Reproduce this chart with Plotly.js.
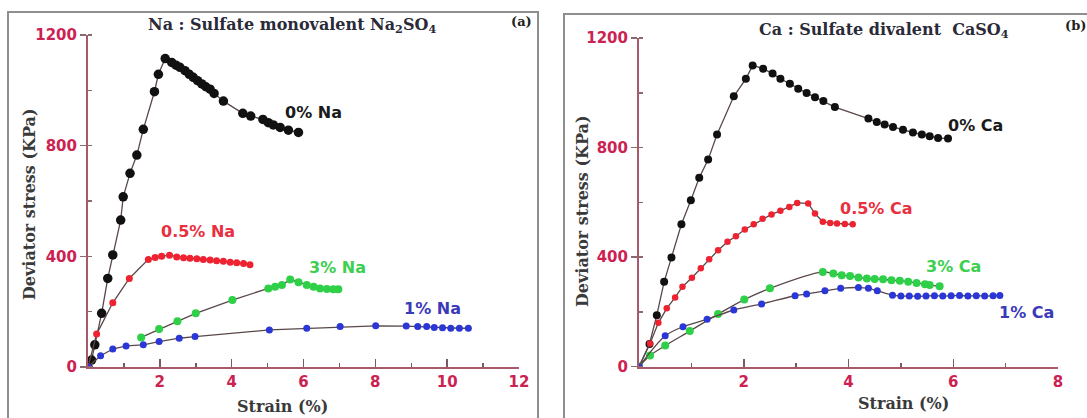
<!DOCTYPE html>
<html>
<head>
<meta charset="utf-8">
<script src="https://cdn.plot.ly/plotly-3.0.1.min.js"></script>
<style>html,body{margin:0;padding:0;background:#fff;}#chart{width:1087px;height:418px;}</style>
</head>
<body>
<div id="chart"></div>
<script>
// ---- Panel (a): Na2SO4 ----
const naStrain0  = [0, 0.10, 0.19, 0.38, 0.55, 0.69, 0.91, 0.98, 1.17, 1.36, 1.54, 1.85, 1.96, 2.15, 2.33, 2.45, 2.56, 2.70, 2.82, 2.93, 3.05, 3.17, 3.28, 3.40, 3.51, 3.77, 4.31, 4.53, 4.87, 5.02, 5.16, 5.35, 5.58, 5.86];
const naStress0  = [0, 25, 80, 194, 320, 405, 531, 615, 700, 766, 859, 995, 1058, 1115, 1101, 1091, 1083, 1071, 1058, 1047, 1035, 1023, 1013, 1004, 989, 961, 917, 907, 895, 883, 875, 866, 856, 848];
const naStrain05 = [0, 0.24, 0.69, 1.15, 1.68, 1.87, 2.05, 2.27, 2.47, 2.66, 2.84, 3.03, 3.21, 3.40, 3.58, 3.77, 3.96, 4.14, 4.33, 4.51];
const naStress05 = [0, 119, 232, 320, 389, 396, 400, 404, 398, 395, 393, 391, 389, 387, 384, 382, 379, 377, 374, 370];
const naStrain3  = [1.48, 1.98, 2.49, 3.00, 4.02, 5.02, 5.21, 5.40, 5.63, 5.86, 6.09, 6.28, 6.46, 6.65, 6.83, 6.97];
const naStress3  = [107, 137, 165, 194, 242, 284, 290, 296, 316, 306, 296, 290, 284, 282, 281, 281];
const naStrain1  = [0, 0.35, 0.69, 1.06, 1.54, 1.98, 2.54, 2.98, 5.05, 6.09, 7.02, 8.01, 8.86, 9.18, 9.43, 9.64, 9.87, 10.10, 10.34, 10.59];
const naStress1  = [0, 41, 65, 76, 80, 92, 104, 110, 134, 140, 146, 149, 148, 146, 146, 143, 142, 140, 140, 140];

// ---- Panel (b): CaSO4 ----
const caStrain0  = [0, 0.20, 0.34, 0.48, 0.62, 0.81, 0.99, 1.15, 1.32, 1.49, 1.81, 2.04, 2.17, 2.37, 2.55, 2.70, 2.88, 3.04, 3.20, 3.36, 3.52, 3.74, 4.38, 4.54, 4.69, 4.85, 5.04, 5.23, 5.40, 5.55, 5.71, 5.90];
const caStress0  = [0, 83, 188, 310, 399, 520, 608, 690, 756, 848, 987, 1051, 1100, 1088, 1070, 1051, 1033, 1015, 999, 984, 970, 948, 906, 893, 884, 875, 865, 855, 848, 841, 835, 833];
const caStrain05 = [0, 0.21, 0.37, 0.53, 0.69, 0.83, 1.01, 1.18, 1.34, 1.51, 1.69, 1.85, 2.02, 2.19, 2.36, 2.53, 2.70, 2.87, 3.02, 3.23, 3.36, 3.51, 3.65, 3.78, 3.93, 4.08];
const caStress05 = [0, 85, 160, 213, 253, 292, 325, 359, 392, 425, 456, 476, 501, 520, 540, 556, 569, 583, 598, 596, 559, 529, 525, 523, 521, 520];
const caStrain3  = [0, 0.21, 0.50, 0.97, 1.51, 2.01, 2.50, 3.51, 3.71, 3.87, 4.03, 4.19, 4.35, 4.50, 4.66, 4.82, 4.98, 5.14, 5.30, 5.46, 5.55, 5.74];
const caStress3  = [0, 41, 77, 130, 192, 245, 286, 346, 340, 334, 331, 326, 322, 320, 319, 316, 314, 310, 306, 301, 298, 294];
const caStrain1  = [0, 0.50, 0.84, 1.30, 1.81, 2.34, 2.98, 3.20, 3.55, 3.85, 4.19, 4.38, 4.55, 4.84, 5.00, 5.16, 5.32, 5.48, 5.64, 5.80, 5.96, 6.12, 6.28, 6.44, 6.60, 6.76, 6.89];
const caStress1  = [0, 113, 146, 173, 207, 229, 259, 265, 277, 286, 289, 286, 277, 261, 258, 258, 257, 258, 259, 258, 259, 260, 258, 259, 258, 259, 260];

// tick labels
const xTicksA = [2, 4, 6, 8, 10, 12];
const xTicksB = [2, 4, 6, 8];
const yTicks  = [0, 400, 800, 1200];

// labels
const seriesLabelsA = ["0% Na", "0.5% Na", "3% Na", "1% Na"];
const seriesLabelsB = ["0% Ca", "0.5% Ca", "3% Ca", "1% Ca"];

const W = 1087, H = 418;
const px = v => v / W;
const py = v => 1 - v / H;

const lineCol = '#5a4848';
const cBlack = '#111111', cRed = '#ee2230', cGreen = '#2ed048', cBlue = '#2a36d6';

function tr(x, y, col, size, xa, ya, shape) {
  return {
    x: x, y: y, xaxis: xa, yaxis: ya, type: 'scatter', mode: 'lines+markers',
    line: {color: lineCol, width: 1.3, shape: shape || 'linear', smoothing: 0.8},
    marker: {color: col, size: size},
    hoverinfo: 'skip', showlegend: false
  };
}

const data = [
  tr(naStrain0, naStress0, cBlack, 9.5, 'x', 'y'),
  tr(naStrain05, naStress05, cRed, 7, 'x', 'y'),
  tr(naStrain3, naStress3, cGreen, 8, 'x', 'y'),
  tr(naStrain1, naStress1, cBlue, 7, 'x', 'y'),
  tr(caStrain0, caStress0, cBlack, 8, 'x2', 'y2'),
  tr(caStrain05, caStress05, cRed, 6.5, 'x2', 'y2'),
  tr(caStrain3, caStress3, cGreen, 8, 'x2', 'y2', 'spline'),
  tr(caStrain1, caStress1, cBlue, 7, 'x2', 'y2', 'spline')
];

const axCol = '#a85a6a';
const tickFont = {family: 'DejaVu Sans', size: 15, color: '#cc2252', weight: 'bold'};

function xax(dom, rng, ticks, anchor) {
  return {
    domain: dom, range: rng, anchor: anchor,
    showline: true, linecolor: axCol, linewidth: 2,
    showgrid: false, zeroline: false,
    tickmode: 'array', tickvals: ticks, ticktext: ticks.map(String),
    ticks: 'inside', ticklen: 8, tickwidth: 1.5, tickcolor: '#7a5a60',
    tickfont: tickFont,
    minor: {tick0: 0, dtick: 1, ticks: 'inside', ticklen: 4, tickwidth: 1.5, tickcolor: '#7a5a60', showgrid: false},
    fixedrange: true
  };
}
function yax(dom, anchor) {
  return {
    domain: dom, range: [0, 1200], anchor: anchor,
    showline: true, linecolor: axCol, linewidth: 2,
    showgrid: false, zeroline: false,
    tickmode: 'array', tickvals: yTicks, ticktext: yTicks.map(String),
    ticks: 'outside', ticklen: 6, tickwidth: 1.5, tickcolor: '#8a6a70',
    tickfont: tickFont,
    minor: {tick0: 0, dtick: 200, ticks: 'inside', ticklen: 4, tickwidth: 1.5, tickcolor: '#8a6a70', showgrid: false},
    fixedrange: true
  };
}

const titleFont = {family: 'DejaVu Serif', size: 16, color: '#2a2a38', weight: 'bold'};
const axTitleFont = {family: 'DejaVu Serif', size: 16, color: '#3a3a3a', weight: 'bold'};
const lblFont = (c) => ({family: 'DejaVu Sans', size: 16, color: c, weight: 'bold'});

function lbl(text, x, y, c, xr, yr) {
  return {text: text, x: x, y: y, xref: xr, yref: yr, showarrow: false, xanchor: 'center', yanchor: 'middle', font: lblFont(c)};
}

const annotations = [
  {text: 'Na : Sulfate monovalent Na<sub>2</sub>SO<sub>4</sub>', x: px(292), y: py(26), xref: 'paper', yref: 'paper', showarrow: false, xanchor: 'center', yanchor: 'middle', font: titleFont},
  {text: '(a)', x: px(521), y: py(22), xref: 'paper', yref: 'paper', showarrow: false, xanchor: 'center', yanchor: 'middle', font: {family: 'DejaVu Serif', size: 13, color: '#222', weight: 'bold'}},
  {text: 'Ca : Sulfate divalent  CaSO<sub>4</sub>', x: px(884), y: py(30), xref: 'paper', yref: 'paper', showarrow: false, xanchor: 'center', yanchor: 'middle', font: titleFont},
  {text: '(b)', x: px(1075), y: py(26), xref: 'paper', yref: 'paper', showarrow: false, xanchor: 'center', yanchor: 'middle', font: {family: 'DejaVu Serif', size: 13, color: '#222', weight: 'bold'}},
  {text: 'Deviator stress (KPa)', x: px(30), y: py(205), xref: 'paper', yref: 'paper', showarrow: false, textangle: -90, xanchor: 'center', yanchor: 'middle', font: axTitleFont},
  {text: 'Deviator stress (KPa)', x: px(582), y: py(212), xref: 'paper', yref: 'paper', showarrow: false, textangle: -90, xanchor: 'center', yanchor: 'middle', font: axTitleFont},
  {text: 'Strain (%)', x: px(282), y: py(406), xref: 'paper', yref: 'paper', showarrow: false, xanchor: 'center', yanchor: 'middle', font: axTitleFont},
  {text: 'Strain (%)', x: px(903), y: py(403), xref: 'paper', yref: 'paper', showarrow: false, xanchor: 'center', yanchor: 'middle', font: axTitleFont},
  lbl(seriesLabelsA[0], 6.27, 921, '#1a1a1a', 'x', 'y'),
  lbl(seriesLabelsA[1], 3.06, 488, '#e83040', 'x', 'y'),
  lbl(seriesLabelsA[2], 6.96, 358, '#3ccf50', 'x', 'y'),
  lbl(seriesLabelsA[3], 9.58, 213, '#3a3ab8', 'x', 'y'),
  lbl(seriesLabelsB[0], 6.43, 881, '#1a1a1a', 'x2', 'y2'),
  lbl(seriesLabelsB[1], 4.52, 578, '#e83040', 'x2', 'y2'),
  lbl(seriesLabelsB[2], 6.00, 364, '#3ccf50', 'x2', 'y2'),
  lbl(seriesLabelsB[3], 7.40, 199, '#3a3ab8', 'x2', 'y2')
];

const shapes = [
  {type: 'rect', xref: 'paper', yref: 'paper', x0: px(8), x1: px(538), y0: py(425), y1: py(12), line: {color: '#8e8e8e', width: 2}},
  {type: 'rect', xref: 'paper', yref: 'paper', x0: px(564), x1: px(1100), y0: py(425), y1: py(14), line: {color: '#8e8e8e', width: 2}}
];

const layout = {
  width: W, height: H,
  margin: {l: 0, r: 0, t: 0, b: 0},
  paper_bgcolor: '#ffffff', plot_bgcolor: 'rgba(0,0,0,0)',
  showlegend: false, hovermode: false,
  xaxis: xax([px(88), px(519)], [0, 12], xTicksA, 'y'),
  yaxis: yax([1 - 367 / H, 1 - 35 / H], 'x'),
  xaxis2: xax([px(639), px(1058)], [0, 8], xTicksB, 'y2'),
  yaxis2: yax([1 - 366.7 / H, 1 - 38 / H], 'x2'),
  annotations: annotations,
  shapes: shapes
};

Plotly.newPlot('chart', data, layout, {staticPlot: true, displayModeBar: false});
</script>
</body>
</html>
